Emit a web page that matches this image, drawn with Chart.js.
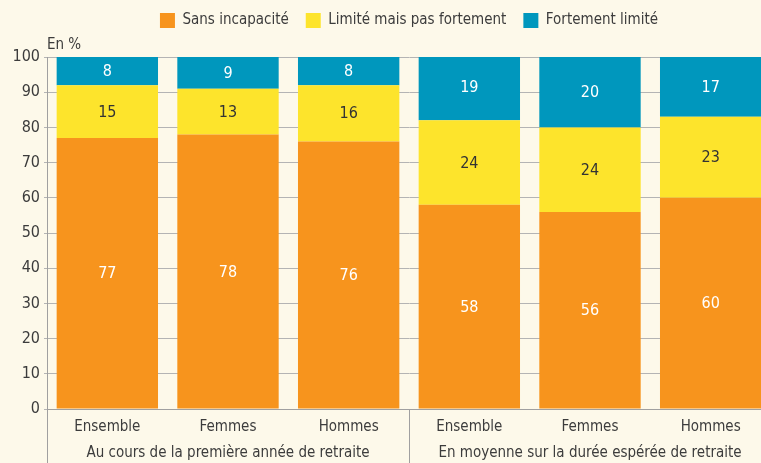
<!DOCTYPE html>
<html>
<head>
<meta charset="utf-8">
<script src="https://cdn.jsdelivr.net/npm/chart.js@4.4.1/dist/chart.umd.min.js"></script>
<style>
  html, body { margin: 0; padding: 0; overflow: hidden; background: #fdf9ea; }
  #wrap { width: 771px; height: 463px; position: relative; }
</style>
</head>
<body>
<div id="wrap"><canvas id="canvas"></canvas></div>
<script>
const categories = ['Ensemble', 'Femmes', 'Hommes', 'Ensemble', 'Femmes', 'Hommes'];
const groups = ['Au cours de la première année de retraite', 'En moyenne sur la durée espérée de retraite'];
const sansIncapacite = [77, 78, 76, 58, 56, 60];
const limite = [15, 13, 16, 24, 24, 23];
const fortement = [8, 9, 8, 19, 20, 17];
const yTicks = [0, 10, 20, 30, 40, 50, 60, 70, 80, 90, 100];

const FONT = '"DejaVu Sans Condensed", "Liberation Sans Narrow", sans-serif';
const TXT = '#3c3c3c';
const GRID = '#b4b4b4';

// labels inside the segments
const segLabels = {
    id: 'segLabels',
    afterDatasetsDraw(chart) {
        const ctx = chart.ctx;
        ctx.save();
        ctx.font = '16px ' + FONT;
        ctx.textAlign = 'center';
        ctx.textBaseline = 'middle';
        chart.data.datasets.forEach((ds, i) => {
            chart.getDatasetMeta(i).data.forEach((bar, j) => {
                ctx.fillStyle = ds.labelColor;
                ctx.fillText(ds.data[j], bar.x, (bar.y + bar.base) / 2 + 1);
            });
        });
        ctx.restore();
    }
};

// group labels and separators under the x axis
const extras = {
    id: 'extras',
    afterDraw(chart) {
        const ctx = chart.ctx;
        const x = chart.scales.x;
        const area = chart.chartArea;
        ctx.save();
        ctx.strokeStyle = '#a0a0a0';
        ctx.lineWidth = 1;
        const sep = (x.getPixelForValue(2) + x.getPixelForValue(3)) / 2;
        [area.left, sep].forEach(px => {
            const p = Math.round(px) + 0.5;
            ctx.beginPath();
            ctx.moveTo(p, area.bottom);
            ctx.lineTo(p, chart.height);
            ctx.stroke();
        });

        ctx.font = '15px ' + FONT;
        ctx.fillStyle = TXT;
        ctx.textAlign = 'center';
        ctx.textBaseline = 'middle';
        ctx.fillText(groups[0], (x.getPixelForValue(0) + x.getPixelForValue(2)) / 2, area.bottom + 44);
        ctx.fillText(groups[1], (x.getPixelForValue(3) + x.getPixelForValue(5)) / 2, area.bottom + 44);
        ctx.restore();
    }
};

new Chart(document.getElementById('canvas'), {
    type: 'bar',
    data: {
        labels: categories,
        datasets: [
            { label: 'Sans incapacité', data: sansIncapacite, backgroundColor: '#f7941d', labelColor: '#ffffff' },
            { label: 'Limité mais pas fortement', data: limite, backgroundColor: '#fde42c', labelColor: '#333333' },
            { label: 'Fortement limité', data: fortement, backgroundColor: '#0097bd', labelColor: '#ffffff' }
        ]
    },
    options: {
        responsive: true,
        maintainAspectRatio: false,
        animation: false,
        layout: { padding: { top: -4, right: 0, left: 0, bottom: 0 } },
        datasets: { bar: { categoryPercentage: 1, barPercentage: 0.84 } },
        plugins: {
            legend: {
                fullSize: false,
                labels: {
                    boxWidth: 15,
                    boxHeight: 15,
                    padding: 17,
                    color: TXT,
                    font: { family: FONT, size: 15 }
                }
            },
            title: {
                display: true,
                text: 'En %',
                align: 'start',
                fullSize: false,
                weight: 500,
                color: TXT,
                font: { family: FONT, size: 15, weight: 'normal' },
                padding: { top: -2, bottom: 3 }
            },
            tooltip: { enabled: false }
        },
        scales: {
            x: {
                stacked: true,
                grid: { display: false, drawTicks: false },
                border: { color: '#a0a0a0' },
                ticks: { color: TXT, font: { family: FONT, size: 15 }, padding: 9, maxRotation: 0 },
                afterFit(scale) { scale.height = 54; }
            },
            y: {
                stacked: true,
                min: 0,
                max: 100,
                afterBuildTicks(scale) { scale.ticks = yTicks.map(v => ({ value: v })); },
                grid: { color: GRID, tickLength: 3 },
                border: { color: '#a0a0a0' },
                ticks: { color: TXT, font: { family: FONT, size: 16 }, padding: 4 },
                afterFit(scale) { scale.width = 47; }
            }
        }
    },
    plugins: [segLabels, extras]
});
</script>
</body>
</html>
